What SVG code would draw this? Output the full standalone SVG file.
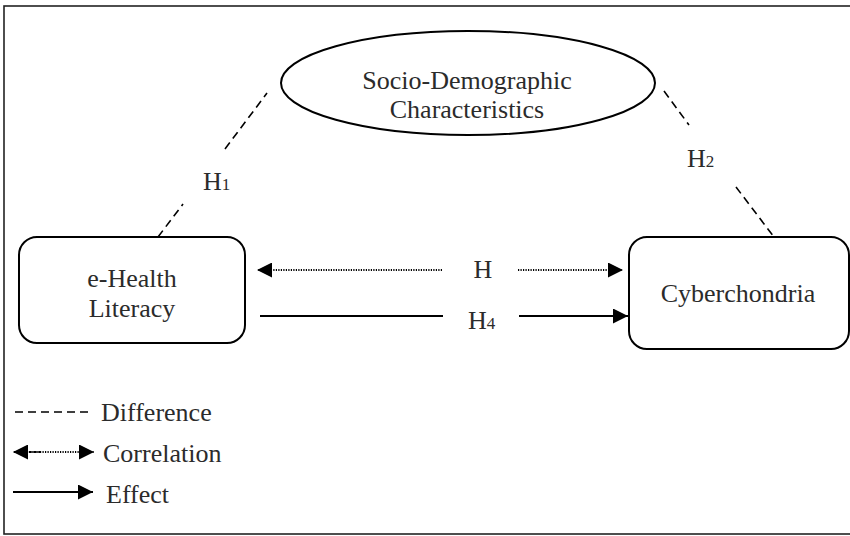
<svg xmlns="http://www.w3.org/2000/svg" width="850" height="536" viewBox="0 0 850 536">
  <style>
    text { font-family: "Liberation Serif", "Times New Roman", serif; font-size: 26px; fill: #2b2b2b; }
    .mid { text-anchor: middle; }
    .sub { font-size: 17px; }
    .node { fill: #fff; stroke: #000; stroke-width: 2; }
    .dash { fill: none; stroke: #000; stroke-width: 1.6; stroke-dasharray: 8 5; }
    .dot { fill: none; stroke: #000; stroke-width: 1.8; stroke-dasharray: 1.2 1.3; }
    .solid { fill: none; stroke: #000; stroke-width: 2; }
  </style>
  <defs>
    <marker id="arrow" viewBox="0 0 10 10" refX="10" refY="5" markerWidth="16" markerHeight="15" markerUnits="userSpaceOnUse" orient="auto-start-reverse">
      <path d="M0,0 L10,5 L0,10 Z" fill="#000"/>
    </marker>
  </defs>

  <rect x="0" y="0" width="850" height="536" fill="#fff"/>
  <!-- outer frame -->
  <rect x="4" y="6" width="852" height="528" fill="none" stroke="#222" stroke-width="1.6"/>

  <!-- connectors -->
  <g id="connectors">
    <line class="dash" x1="158" y1="237" x2="183" y2="204"/>
    <line class="dash" x1="225" y1="149" x2="267" y2="93"/>
    <line class="dash" x1="664" y1="91" x2="689" y2="125"/>
    <line class="dash" x1="736" y1="187" x2="774" y2="237"/>

    <line class="dot" x1="442" y1="270" x2="257" y2="270" marker-end="url(#arrow)"/>
    <line class="dot" x1="518" y1="270" x2="623" y2="270" marker-end="url(#arrow)"/>

    <line class="solid" x1="260" y1="316" x2="443" y2="316"/>
    <line class="solid" x1="519" y1="316" x2="628" y2="316" marker-end="url(#arrow)"/>

    <text x="203" y="190">H<tspan class="sub">1</tspan></text>
    <text x="687" y="167">H<tspan class="sub">2</tspan></text>
    <text class="mid" x="483" y="278">H</text>
    <text x="468" y="329">H<tspan class="sub">4</tspan></text>
  </g>

  <g id="socio">
    <ellipse class="node" cx="468" cy="83" rx="187" ry="52"/>
    <text class="mid" x="467" y="89">Socio-Demographic</text>
    <text class="mid" x="467" y="118">Characteristics</text>
  </g>

  <g id="ehealth">
    <rect class="node" x="19" y="237" width="226" height="106" rx="18"/>
    <text class="mid" x="132" y="287">e-Health</text>
    <text class="mid" x="132" y="317">Literacy</text>
  </g>

  <g id="cyber">
    <rect class="node" x="629" y="237" width="220" height="112" rx="18"/>
    <text class="mid" x="738" y="302">Cyberchondria</text>
  </g>

  <g id="legend">
    <line class="dash" x1="15" y1="412" x2="93" y2="412"/>
    <text x="101" y="421">Difference</text>
    <line class="dot" x1="40" y1="452" x2="13" y2="452" marker-end="url(#arrow)"/>
    <line class="dot" x1="30" y1="452" x2="94" y2="452" marker-end="url(#arrow)"/>
    <text x="103" y="462">Correlation</text>
    <line class="solid" x1="13" y1="492" x2="93" y2="492" marker-end="url(#arrow)"/>
    <text x="106" y="503">Effect</text>
  </g>
</svg>
